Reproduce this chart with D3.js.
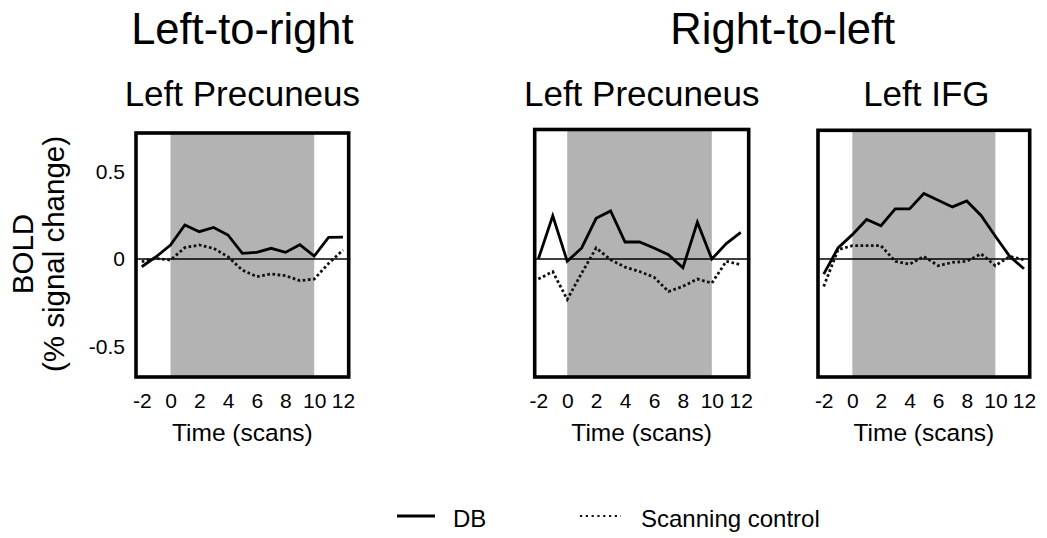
<!DOCTYPE html>
<html>
<head>
<meta charset="utf-8">
<script src="https://cdn.jsdelivr.net/npm/d3@7"></script>
<style>
  body { margin: 0; background: #fff; }
  svg { display: block; font-family: Arial, "Liberation Sans", sans-serif; }
</style>
</head>
<body>
<svg id="chart" width="1047" height="538"></svg>
<script>
// Time points (scans relative to block onset)
const scans = [-2, -1, 0, 1, 2, 3, 4, 5, 6, 7, 8, 9, 10, 11, 12];
const xTicks = [-2, 0, 2, 4, 6, 8, 10, 12];
const yTicks = [-0.5, 0, 0.5];
const blockPeriod = [0, 10];

// Mean BOLD response (% signal change)
const ltrPrecuneusDB      = [-0.044, 0.013, 0.08, 0.194, 0.156, 0.18, 0.137, 0.032, 0.038, 0.061, 0.038, 0.082, 0.017, 0.123, 0.125];
const ltrPrecuneusControl = [-0.015, 0.004, -0.006, 0.065, 0.08, 0.061, 0.013, -0.063, -0.1, -0.085, -0.095, -0.123, -0.114, -0.025, 0.051];
const rtlPrecuneusDB      = [0, 0.246, -0.013, 0.063, 0.232, 0.274, 0.097, 0.097, 0.063, 0.025, -0.05, 0.21, 0, 0.088, 0.152];
const rtlPrecuneusControl = [-0.114, -0.072, -0.23, -0.08, 0.063, -0.004, -0.046, -0.071, -0.103, -0.185, -0.156, -0.114, -0.137, -0.013, -0.032];
const rtlIFGDB            = [-0.086, 0.063, 0.139, 0.225, 0.19, 0.286, 0.286, 0.373, 0.335, 0.297, 0.331, 0.248, 0.13, 0.015, -0.055];
const rtlIFGControl       = [-0.156, 0.053, 0.076, 0.076, 0.076, -0.013, -0.029, 0.015, -0.038, -0.019, -0.013, 0.03, -0.038, 0.015, -0.004];

const groupTitles = ["Left-to-right", "Right-to-left"];
const panelTitles = ["Left Precuneus", "Left Precuneus", "Left IFG"];
const seriesNames = ["DB", "Scanning control"];

const panels = [
  { title: panelTitles[0], db: ltrPrecuneusDB, control: ltrPrecuneusControl, left: 136,   right: 348.7,  top: 133,   xDomain: [-2.4, 12.4],   titleShift: 0,   yLabels: true },
  { title: panelTitles[1], db: rtlPrecuneusDB, control: rtlPrecuneusControl, left: 534.7, right: 748.7,  top: 129.5, xDomain: [-2.25, 12.55], titleShift: 0,   yLabels: false },
  { title: panelTitles[2], db: rtlIFGDB,       control: rtlIFGControl,       left: 818,   right: 1029.7, top: 130.3, xDomain: [-2.4, 12.4],   titleShift: 2.5, yLabels: false }
];

const bottom = 377;
const shade = "#b3b3b3";
const svg = d3.select("#chart");

const y = d3.scaleLinear().domain([-0.672, 0.718]).range([bottom, 133]);

const styles = {
  db:      { width: 2.8, dash: null },
  control: { width: 2.8, dash: "2.7,2.5" }
};

panels.forEach(p => {
  const x = d3.scaleLinear().domain(p.xDomain).range([p.left, p.right]);
  const g = svg.append("g");

  // stimulation block
  g.append("rect")
    .attr("x", x(blockPeriod[0])).attr("y", p.top)
    .attr("width", x(blockPeriod[1]) - x(blockPeriod[0]))
    .attr("height", bottom - p.top)
    .attr("fill", shade);

  // baseline
  g.append("line")
    .attr("x1", p.left).attr("x2", p.right)
    .attr("y1", y(0)).attr("y2", y(0))
    .attr("stroke", "#000").attr("stroke-width", 1.5);

  const line = d3.line().x((d, i) => x(scans[i])).y(d => y(d));

  g.append("path").datum(p.control)
    .attr("d", line).attr("fill", "none")
    .attr("stroke", "#111").attr("stroke-width", styles.control.width)
    .attr("stroke-dasharray", styles.control.dash);

  g.append("path").datum(p.db)
    .attr("d", line).attr("fill", "none")
    .attr("stroke", "#000").attr("stroke-width", styles.db.width)
    .attr("stroke-linejoin", "miter");

  // frame
  g.append("rect")
    .attr("x", p.left).attr("y", p.top)
    .attr("width", p.right - p.left).attr("height", bottom - p.top)
    .attr("fill", "none").attr("stroke", "#000").attr("stroke-width", 3.6);

  // x tick labels
  const xa = g.append("g").attr("transform", `translate(0,${bottom})`)
    .call(d3.axisBottom(x).tickValues(xTicks).tickSize(0).tickFormat(d => String(d)));
  xa.select(".domain").remove();
  xa.selectAll("text")
    .attr("y", 31).attr("dy", 0)
    .attr("font-size", 21).attr("font-family", "Arial, 'Liberation Sans', sans-serif")
    .attr("fill", "#000");

  g.append("text")
    .attr("x", (p.left + p.right) / 2).attr("y", 441)
    .attr("text-anchor", "middle").attr("font-size", 24.5)
    .text("Time (scans)");

  g.append("text")
    .attr("x", (p.left + p.right) / 2 + p.titleShift).attr("y", 106)
    .attr("text-anchor", "middle").attr("font-size", 35)
    .text(p.title);

  if (p.yLabels) {
    const ya = svg.append("g").attr("transform", "translate(125,0)")
      .call(d3.axisLeft(y).tickValues(yTicks).tickSize(0).tickPadding(0)
        .tickFormat(d => d === 0 ? "0" : String(d)));
    ya.select(".domain").remove();
    ya.selectAll("text")
      .attr("font-size", 21).attr("font-family", "Arial, 'Liberation Sans', sans-serif")
      .attr("fill", "#000");
  }
});

// group headings
const c0 = (panels[0].left + panels[0].right) / 2;
const c12 = ((panels[1].left + panels[1].right) / 2 + (panels[2].left + panels[2].right) / 2) / 2;
[c0, c12].forEach((cx, i) => {
  svg.append("text")
    .attr("x", cx).attr("y", 44)
    .attr("text-anchor", "middle").attr("font-size", 43.5)
    .text(groupTitles[i]);
});

// y axis title
const yt = svg.append("text")
  .attr("transform", "translate(0,254) rotate(-90)")
  .attr("text-anchor", "middle").attr("font-size", 29.5);
yt.append("tspan").attr("x", 0).attr("y", 33).text("BOLD");
yt.append("tspan").attr("x", 0).attr("y", 64).text("(% signal change)");

// legend
const legend = svg.append("g");
legend.append("line")
  .attr("x1", 397).attr("x2", 435).attr("y1", 516).attr("y2", 516)
  .attr("stroke", "#000").attr("stroke-width", 2.8);
legend.append("text").attr("x", 453).attr("y", 527).attr("font-size", 24).text(seriesNames[0]);
legend.append("line")
  .attr("x1", 580).attr("x2", 621).attr("y1", 516).attr("y2", 516)
  .attr("stroke", "#111").attr("stroke-width", 2.2).attr("stroke-dasharray", "2.2,3.6");
legend.append("text").attr("x", 641).attr("y", 527).attr("font-size", 24).text(seriesNames[1]);
</script>
</body>
</html>
